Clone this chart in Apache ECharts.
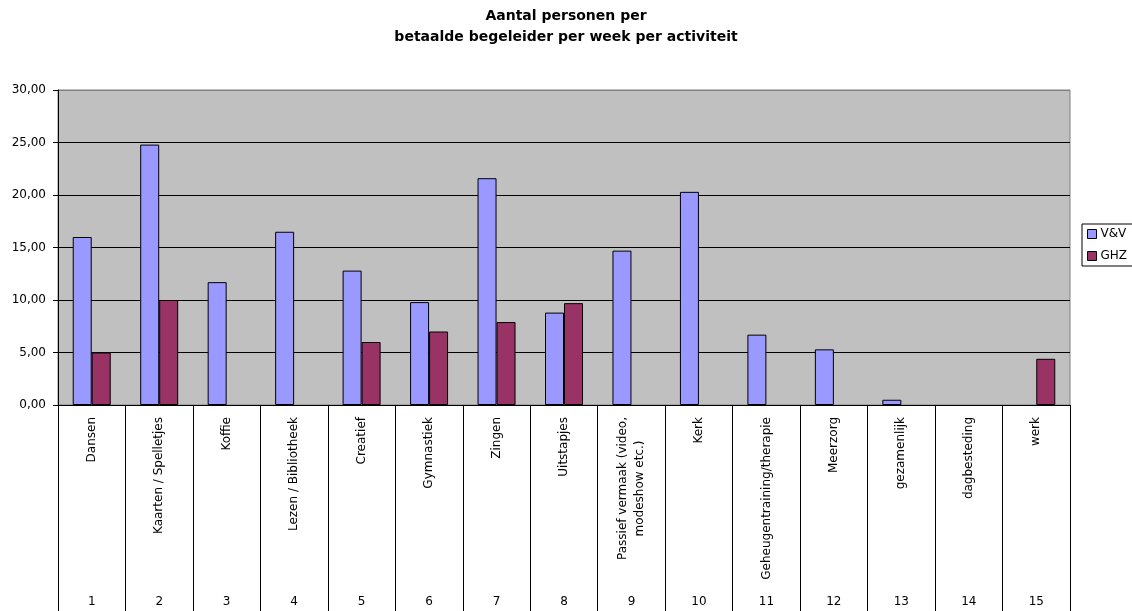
<!DOCTYPE html>
<html>
<head>
<meta charset="utf-8">
<title>Aantal personen per betaalde begeleider</title>
<script src="https://cdn.jsdelivr.net/npm/echarts@6/dist/echarts.min.js"></script>
<style>
  html, body { margin: 0; padding: 0; background: #fff; }
  #chart { width: 1132px; height: 611px; }
</style>
</head>
<body>
<div id="chart"></div>
<script>
// Activities (category names) and their row numbers
var activities = [
  'Dansen', 'Kaarten / Spelletjes', 'Koffie', 'Lezen / Bibliotheek', 'Creatief',
  'Gymnastiek', 'Zingen', 'Uitstapjes', 'Passief vermaak (video,\nmodeshow etc.)', 'Kerk',
  'Geheugentraining/therapie', 'Meerzorg', 'gezamenlijk', 'dagbesteding', 'werk'
];
var activityNumbers = ['1', '2', '3', '4', '5', '6', '7', '8', '9', '10', '11', '12', '13', '14', '15'];

// Persons per paid supervisor per week
var valuesVV  = [16.0, 24.8, 11.7, 16.5, 12.8, 9.8, 21.6, 8.8, 14.7, 20.3, 6.7, 5.3, 0.5, null, null];
var valuesGHZ = [5.0, 10.0, null, null, 6.0, 7.0, 7.9, 9.7, null, null, null, null, null, null, 4.4];

var FONT = 'DejaVu Sans';

var chart = echarts.init(document.getElementById('chart'), null, { renderer: 'canvas' });

chart.setOption({
  backgroundColor: '#ffffff',
  animation: false,
  title: {
    text: 'Aantal personen per\nbetaalde begeleider per week per activiteit',
    left: 'center',
    top: 6,
    padding: 0,
    textStyle: {
      fontFamily: FONT,
      fontSize: 14,
      fontWeight: 'bold',
      color: '#000',
      lineHeight: 21
    }
  },
  legend: {
    orient: 'vertical',
    left: 1082,
    top: 224,
    padding: [4, 30, 4, 5],
    itemGap: 10,
    itemWidth: 9,
    itemHeight: 9,
    icon: 'rect',
    borderColor: '#000',
    borderWidth: 1,
    backgroundColor: '#fff',
    itemStyle: { borderColor: '#000', borderWidth: 1 },
    textStyle: { fontFamily: FONT, fontSize: 12, color: '#000', padding: [0, 0, 0, -1] },
    data: ['V&V', 'GHZ']
  },
  grid: {
    left: 58,
    right: 62,
    top: 90,
    bottom: 206,
    show: true,
    backgroundColor: '#c0c0c0',
    borderColor: '#808080',
    borderWidth: 1
  },
  xAxis: [
    {
      type: 'category',
      data: activities,
      position: 'bottom',
      boundaryGap: true,
      axisLine: { show: true, lineStyle: { color: '#000', width: 1 } },
      axisTick: {
        show: true,
        interval: 0,
        inside: false,
        length: 210,
        lineStyle: { color: '#000', width: 1 }
      },
      axisLabel: {
        interval: 0,
        rotate: 90,
        margin: 12,
        color: '#000',
        fontFamily: FONT,
        fontSize: 12,
        formatter: function (v) {
          return v.split('\n').map(function (s) { return '{c|' + s + '}'; }).join('\n');
        },
        rich: {
          c: { align: 'center', fontFamily: FONT, fontSize: 12, lineHeight: 17, color: '#000' }
        }
      },
      splitLine: { show: false }
    },
    {
      type: 'category',
      data: activityNumbers,
      position: 'bottom',
      offset: 183,
      boundaryGap: true,
      axisLine: { show: false },
      axisTick: { show: false },
      axisLabel: {
        interval: 0,
        margin: 8,
        color: '#000',
        fontFamily: FONT,
        fontSize: 12
      },
      splitLine: { show: false }
    }
  ],
  yAxis: {
    type: 'value',
    min: 0,
    max: 30,
    interval: 5,
    axisLine: { show: true, lineStyle: { color: '#000', width: 1 } },
    axisTick: { show: true, inside: false, length: 5, lineStyle: { color: '#000' } },
    axisLabel: {
      margin: 12,
      color: '#000',
      fontFamily: FONT,
      fontSize: 12,
      formatter: function (v) { return v.toFixed(2).replace('.', ','); }
    },
    splitLine: {
      show: true,
      lineStyle: {
        color: ['#000', '#000', '#000', '#000', '#000', '#000', '#808080'],
        width: 1
      }
    }
  },
  series: [
    {
      name: 'V&V',
      type: 'bar',
      xAxisIndex: 0,
      data: valuesVV,
      barWidth: 19,
      barGap: '0%',
      itemStyle: { color: '#9999ff', borderColor: '#000', borderWidth: 1 }
    },
    {
      name: 'GHZ',
      type: 'bar',
      xAxisIndex: 0,
      data: valuesGHZ,
      barWidth: 19,
      barGap: '0%',
      itemStyle: { color: '#993366', borderColor: '#000', borderWidth: 1 }
    }
  ]
});
</script>
</body>
</html>
